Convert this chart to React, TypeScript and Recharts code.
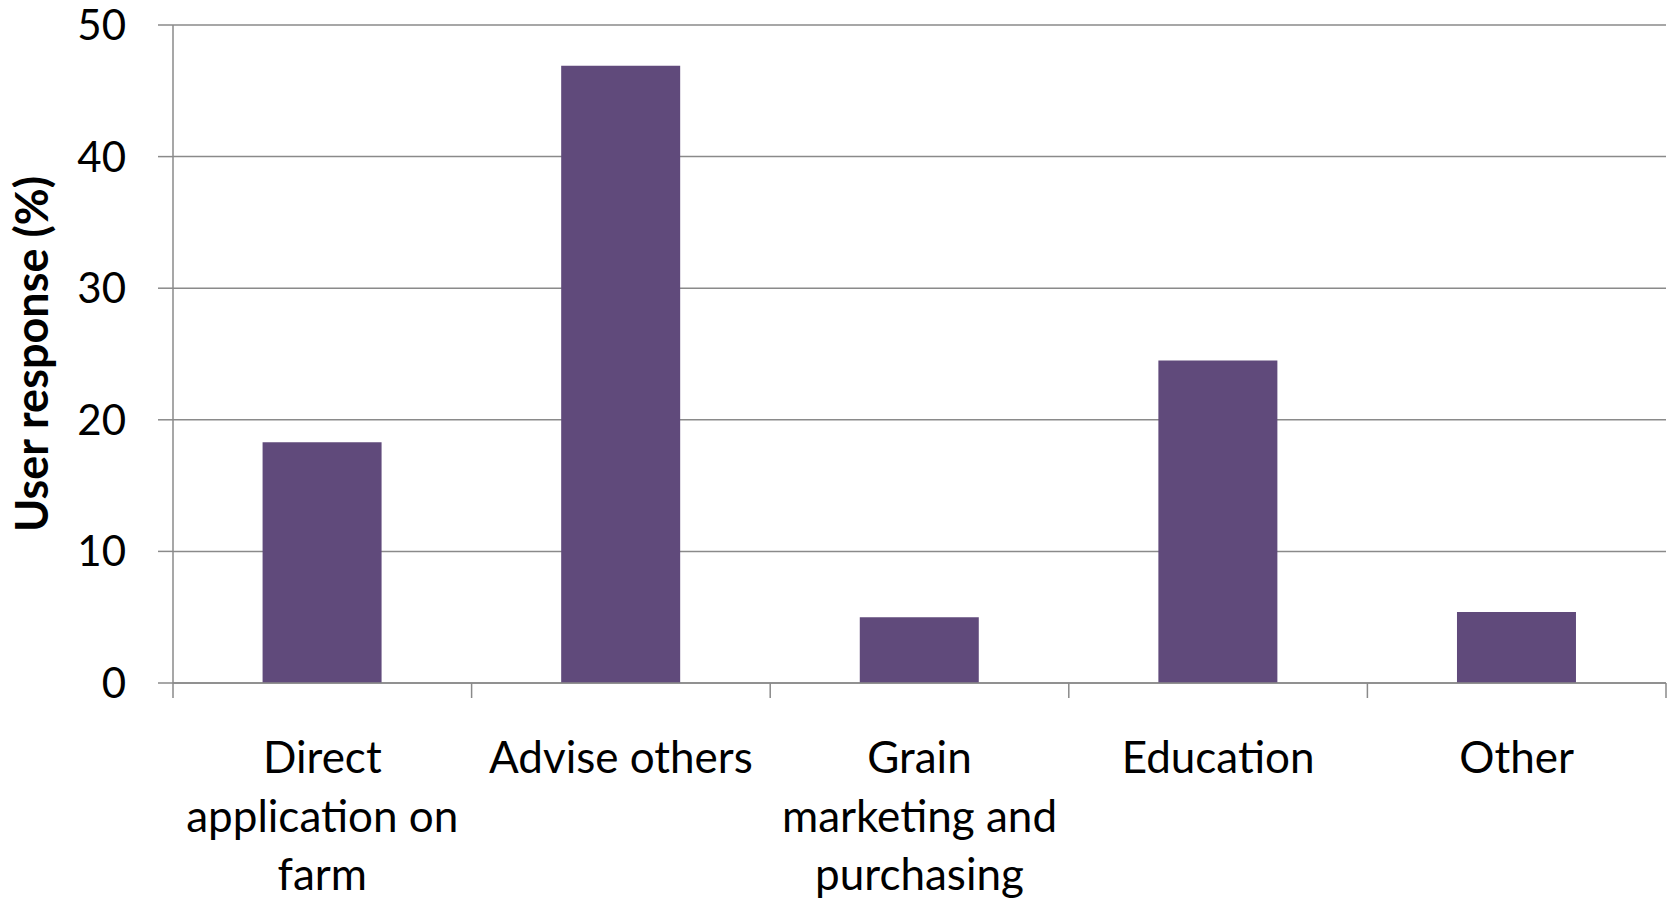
import React from 'react'
import { BarChart, Bar, XAxis, YAxis, CartesianGrid } from 'recharts'

const categories = [
  'Direct\napplication on\nfarm',
  'Advise others',
  'Grain\nmarketing and\npurchasing',
  'Education',
  'Other'
]
const userResponse = [18.3, 46.9, 5.0, 24.5, 5.4]
const yTicks = [0, 10, 20, 30, 40, 50]
const edgeTicks = [0, 1, 2, 3, 4, 5]

const data = categories.map((name, i) => ({ name, value: userResponse[i], pos: i + 0.5 }))

const axisGray = '#8a8a8a'
const barColor = '#604a7b'

const CategoryTick = ({ x, y, payload }: any) => {
  const lines = String(payload.value).split('\n')
  return (
    <text x={x} y={y + 75} textAnchor="middle" fontSize={44} fill="#000">
      {lines.map((line, i) => (
        <tspan key={i} x={x} dy={i === 0 ? 0 : 58.5}>
          {line}
        </tspan>
      ))}
    </text>
  )
}

const App = () => {
  return (
    <div style={{ position: 'absolute', left: 0, top: 0, background: '#fff' }}>
      <BarChart
        width={1675}
        height={901}
        data={data}
        margin={{ top: 25, right: 9, left: 0, bottom: 0 }}
        barCategoryGap="30%"
        style={{ fontFamily: 'Lato, sans-serif' }}
      >
        <CartesianGrid vertical={false} stroke={axisGray} strokeWidth={1.5} />
        <XAxis
          xAxisId="b-cat"
          dataKey="name"
          height={203}
          axisLine={false}
          tickLine={false}
          tickSize={0}
          tickMargin={0}
          interval={0}
          tick={<CategoryTick />}
        />
        <XAxis
          xAxisId="a-edge"
          dataKey="pos"
          type="number"
          domain={[0, 5]}
          ticks={edgeTicks}
          allowDataOverflow
          height={15}
          tickSize={15}
          tick={() => <g />}
          stroke={axisGray}
          strokeWidth={1.5}
        />
        <YAxis
          width={173}
          domain={[0, 50]}
          ticks={yTicks}
          tickSize={15}
          tickMargin={32}
          stroke={axisGray}
          strokeWidth={1.5}
          tick={{ fontSize: 42, fill: '#000' }}
          label={{
            value: 'User response (%)',
            angle: -90,
            position: 'insideLeft',
            offset: 32,
            style: { textAnchor: 'middle', fontSize: 45, fontWeight: 700, fill: '#000' }
          }}
        />
        <Bar xAxisId="b-cat" dataKey="value" fill={barColor} isAnimationActive={false} />
      </BarChart>
    </div>
  )
}

export default App
